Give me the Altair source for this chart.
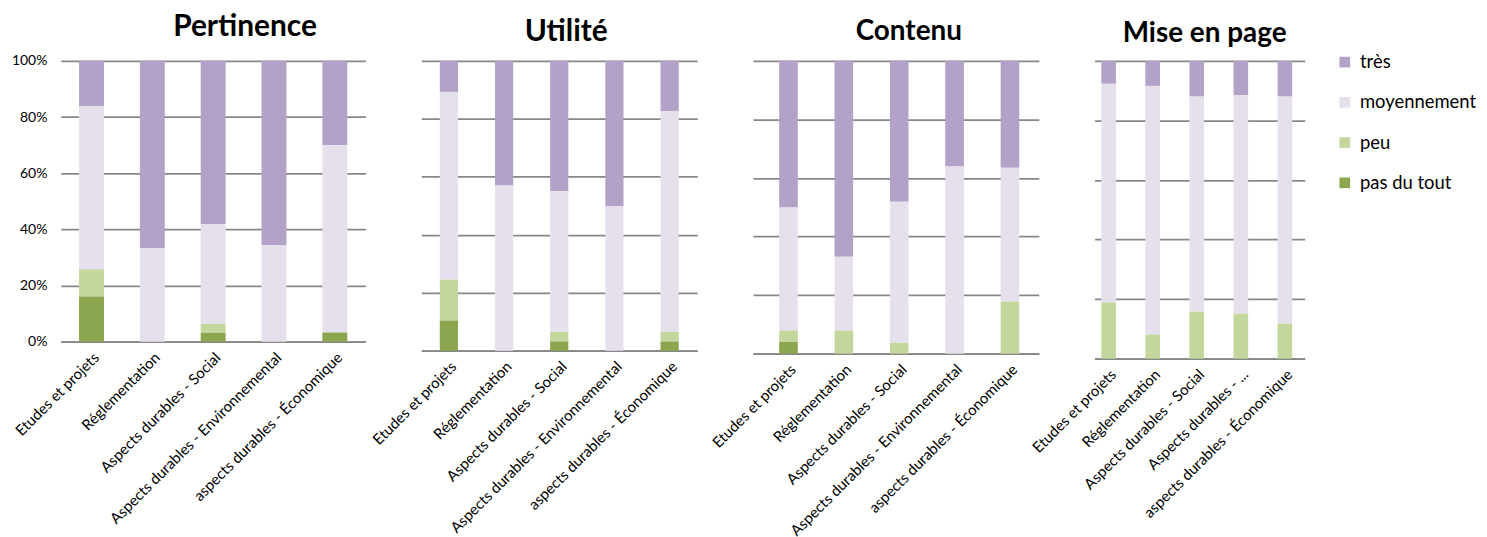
import altair as alt
import pandas as pd

categories = [
    "Etudes et projets",
    "Réglementation",
    "Aspects durables - Social",
    "Aspects durables - Environnemental",
    "aspects durables - Économique",
]
levels = ["très", "moyennement", "peu", "pas du tout"]
level_colors = ["#B3A2C7", "#E6E0EC", "#C3D69B", "#8BA64E"]
stack_rank = {"pas du tout": 0, "peu": 1, "moyennement": 2, "très": 3}

panels = ["Pertinence", "Utilité", "Contenu", "Mise en page"]

# percentages per category (same order as categories)
pertinence_pas = [16.1, 0, 3.2, 0, 3.3]
pertinence_peu = [9.7, 0, 3.2, 0, 0]
pertinence_moy = [58.1, 33.3, 35.5, 34.4, 66.7]
pertinence_tres = [16.1, 66.7, 58.1, 65.6, 30.0]

utilite_pas = [10.4, 0, 3.2, 0, 3.2]
utilite_peu = [14.1, 0, 3.3, 0, 3.3]
utilite_moy = [64.8, 57.0, 48.6, 49.9, 76.2]
utilite_tres = [10.7, 43.0, 44.9, 50.1, 17.3]

contenu_pas = [4.0, 0, 0, 0, 0]
contenu_peu = [3.9, 7.9, 3.7, 0, 17.8]
contenu_moy = [42.0, 25.2, 48.2, 63.9, 45.7]
contenu_tres = [50.1, 66.9, 48.1, 36.1, 36.5]

mise_pas = [0, 0, 0, 0, 0]
mise_peu = [18.9, 8.1, 15.8, 15.1, 11.8]
mise_moy = [73.4, 83.5, 72.2, 73.4, 76.2]
mise_tres = [7.7, 8.4, 12.0, 11.5, 12.0]

series = {
    "Pertinence": [pertinence_tres, pertinence_moy, pertinence_peu, pertinence_pas],
    "Utilité": [utilite_tres, utilite_moy, utilite_peu, utilite_pas],
    "Contenu": [contenu_tres, contenu_moy, contenu_peu, contenu_pas],
    "Mise en page": [mise_tres, mise_moy, mise_peu, mise_pas],
}

rows = []
for p in panels:
    for lvl, vals in zip(levels, series[p]):
        for cat, v in zip(categories, vals):
            rows.append({"panel": p, "category": cat, "level": lvl, "value": v,
                         "rank": stack_rank[lvl]})
df = pd.DataFrame(rows)

FONT = "Lato"
GRID = "#878787"

# layout/style settings per panel
cfg = {
    "Pertinence": dict(w=306, h=282, pi=0.59, po=0.30, al=0.5, ts=30, tdy=12, tdx=32, yl=True, lab=None),
    "Utilité": dict(w=277, h=291, pi=0.67, po=0.335, al=0.5, ts=30, tdy=10, tdx=7, yl=False, lab=None),
    "Contenu": dict(w=287, h=294, pi=0.664, po=0.413, al=0.573, ts=28, tdy=7, tdx=13, yl=False, lab=None),
    "Mise en page": dict(w=211, h=299, pi=0.668, po=0.218, al=0.35, ts=28, tdy=9, tdx=5, yl=False,
                         lab="datum.label == 'Aspects durables - Environnemental' ? 'Aspects durables - ...' : datum.label"),
}


def make_panel(name):
    c = cfg[name]
    xa = dict(title=None, labelAngle=-45, labelFontSize=15, labelFont=FONT, labelColor="#000000",
              labelLimit=300, ticks=False, domainColor=GRID, domainWidth=1.8, grid=False,
              labelPadding=8, labelAlign="right", labelBaseline="top")
    if c["lab"]:
        xa["labelExpr"] = c["lab"]
    ya = dict(title=None, values=[0, 0.2, 0.4, 0.6, 0.8, 1.0], format="%", grid=True,
              gridColor=GRID, gridWidth=1.8, domain=False, ticks=False, labels=c["yl"],
              labelFontSize=14, labelFont=FONT, labelColor="#000000", labelPadding=14)
    return (
        alt.Chart(df[df.panel == name])
        .mark_bar()
        .encode(
            x=alt.X("category:N", sort=categories,
                    scale=alt.Scale(paddingInner=c["pi"], paddingOuter=c["po"], align=c["al"]),
                    axis=alt.Axis(**xa)),
            y=alt.Y("value:Q", stack="normalize", scale=alt.Scale(domain=[0, 1]),
                    axis=alt.Axis(**ya)),
            color=alt.Color("level:N", scale=alt.Scale(domain=levels, range=level_colors),
                            legend=alt.Legend(title=None, orient="none", legendX=1280, legendY=-8,
                                              symbolType="square", symbolSize=115,
                                              symbolStrokeWidth=0, labelFontSize=18.5,
                                              labelFont=FONT, labelColor="#000000",
                                              labelOffset=6, rowPadding=21.4, padding=0)),
            order=alt.Order("rank:Q"),
        )
        .properties(
            width=c["w"], height=c["h"],
            title=alt.TitleParams(name, fontSize=c["ts"], font=FONT, fontWeight="bold",
                                  color="#000000", anchor="middle", frame="group",
                                  dx=c["tdx"], dy=c["tdy"], offset=0, baseline="alphabetic"),
        )
    )


chart = (
    alt.hconcat(*[make_panel(p) for p in panels], spacing=56, bounds="flush")
    .properties(padding={"left": 3, "top": 3, "right": 2, "bottom": 0})
    .configure_view(stroke=None)
)

chart.save("out.html", embed_options={"renderer": "svg", "actions": False})
